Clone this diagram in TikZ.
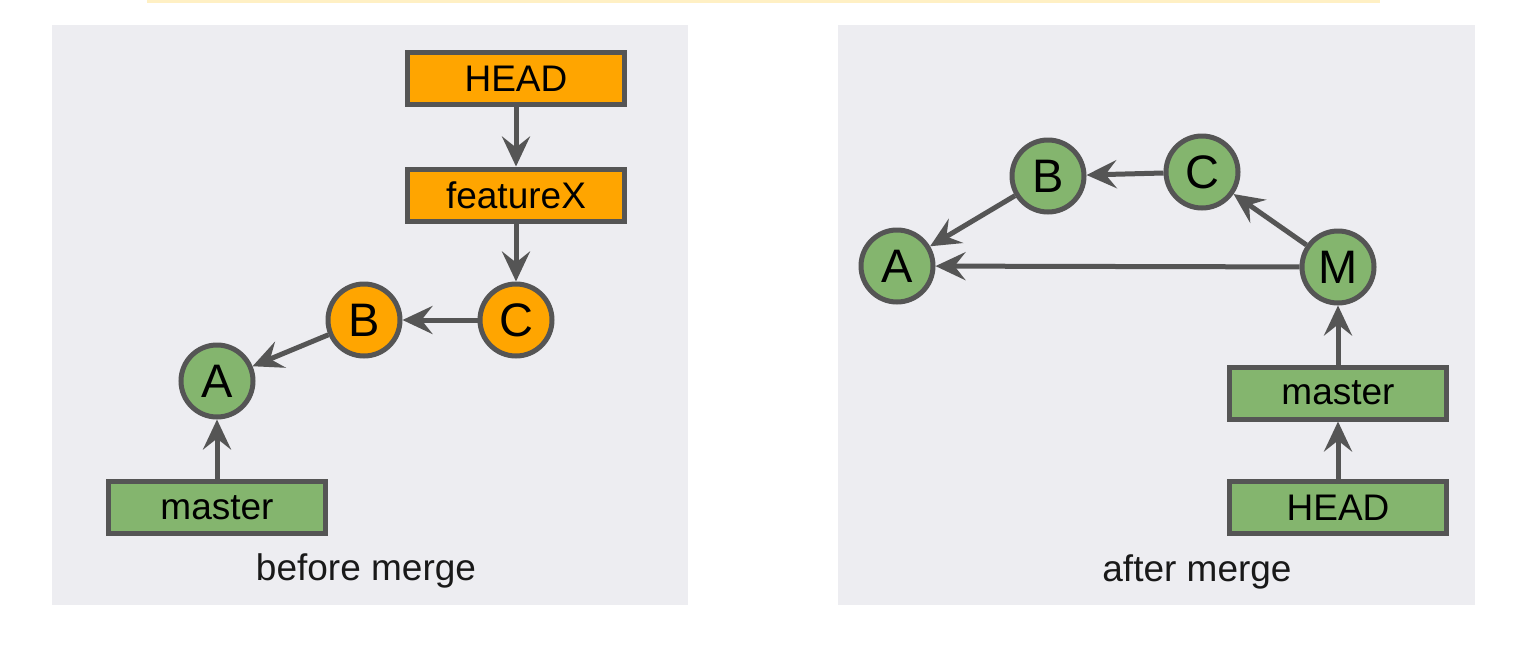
\documentclass[tikz,border=0pt]{standalone}
\usepackage{fontspec}
\setmainfont{Liberation Sans}
\usetikzlibrary{arrows.meta}
\definecolor{panel}{HTML}{EDEDF1}
\definecolor{edge}{HTML}{555555}
\definecolor{orangef}{HTML}{FFA500}
\definecolor{greenf}{HTML}{84B56E}
\definecolor{strip}{HTML}{FFF0C4}
\tikzset{
  commit/.style={circle, draw=edge, line width=5pt, minimum size=72pt, inner sep=0pt, font=\fontsize{47}{50}\selectfont},
  refbox/.style={rectangle, draw=edge, line width=5pt, minimum width=217pt, minimum height=52pt, inner sep=0pt, font=\fontsize{37}{40}\selectfont},
  link/.style={draw=edge, line width=5pt, -{Stealth[length=30pt, width=28pt, inset=11pt]}},
  caption/.style={font=\fontsize{37}{40}\selectfont, text=black!90},
}
\begin{document}
\begin{tikzpicture}[x=1pt, y=-1pt]
\useasboundingbox (0,0) rectangle (1521,651);
\fill[white] (0,0) rectangle (1521,651);
\fill[strip] (147,0) rectangle (1380,3);
\fill[panel] (52,25) rectangle (688,605);
\fill[panel] (838,25) rectangle (1475,605);

% before merge
\node[refbox, fill=orangef] (headL) at (516,78.5) {HEAD};
\node[refbox, fill=orangef] (featL) at (516,195) {featureX};
\node[commit, fill=orangef] (cL) at (516,320) {C};
\node[commit, fill=orangef] (bL) at (364,320) {B};
\node[commit, fill=greenf] (aL) at (217,381) {A};
\node[refbox, fill=greenf] (masterL) at (217,507.5) {master};
\node[caption] (capL) at (366,571) {before merge};
\draw[link] (headL) -- (featL);
\draw[link] (featL) -- (cL);
\draw[link] (cL) -- (bL);
\draw[link] (bL) -- (aL);
\draw[link] (masterL) -- (aL);

% after merge
\node[commit, fill=greenf] (aR) at (897,266) {A};
\node[commit, fill=greenf] (bR) at (1048,176) {B};
\node[commit, fill=greenf] (cR) at (1202,172) {C};
\node[commit, fill=greenf] (mR) at (1338,267) {M};
\node[refbox, fill=greenf] (masterR) at (1338,393) {master};
\node[refbox, fill=greenf] (headR) at (1338,507.5) {HEAD};
\node[caption] (capR) at (1197,572) {after merge};
\draw[link] (mR) -- (aR);
\draw[link] (mR) -- (cR);
\draw[link] (cR) -- (bR);
\draw[link] (bR) -- (aR);
\draw[link] (masterR) -- (mR);
\draw[link] (headR) -- (masterR);
\end{tikzpicture}
\end{document}
